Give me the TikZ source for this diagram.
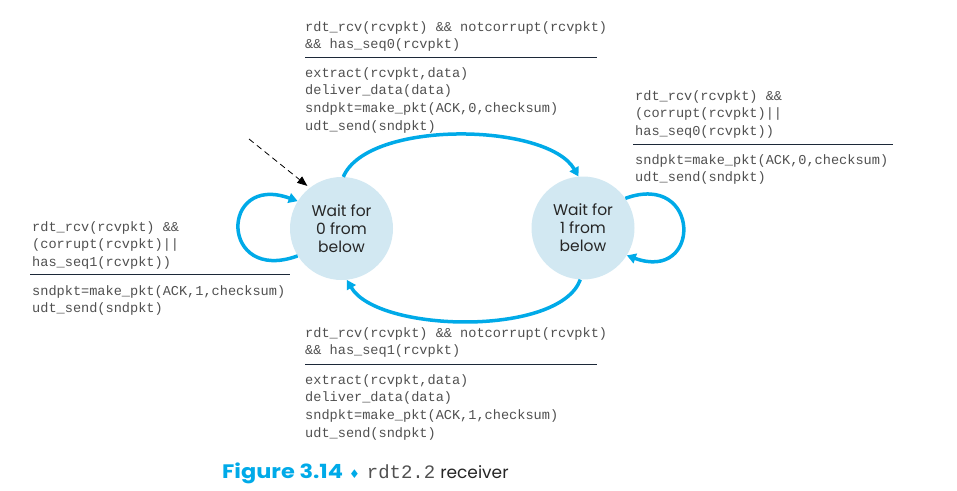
\documentclass[tikz,border=0pt]{standalone}
\usepackage{fontspec}
\setmainfont{Poppins}
\newfontfamily\codefont{Liberation Mono}
\newfontfamily\symfont{DejaVu Sans}
\newfontfamily\capfont{Poppins}[FakeStretch=1.15]
\usetikzlibrary{arrows.meta}
\definecolor{cyanarr}{HTML}{00AAE8}
\definecolor{statefill}{HTML}{D2E8F2}
\definecolor{codegray}{HTML}{505050}
\definecolor{rulenavy}{HTML}{1C2838}
\begin{document}
\begin{tikzpicture}[x=1pt,y=1pt,
  state/.style={circle,fill=statefill,minimum size=103pt,inner sep=0pt,align=center,
    font=\fontsize{15.5}{18}\selectfont,text=black!85},
  code/.style={anchor=north west,inner sep=0pt,align=left,
    font=\codefont\fontsize{13.6}{17.8}\selectfont,text=codegray},
  rulel/.style={draw=rulenavy,line width=1pt},
  trans/.style={draw=cyanarr,line width=3.5pt,-{Triangle[length=9pt,width=10pt]}},
  init/.style={draw=black,line width=0.8pt,dash pattern=on 6pt off 4pt,-{Triangle[length=10pt,width=8pt]}}
]
\useasboundingbox (0,0) rectangle (957,-490);

\node[state] (L) at (341.5,-228.5) {Wait for\\0 from\\below};
\node[state] (R) at (583,-228) {Wait for\\1 from\\below};

% top block
\node[code] (tg) at (305,-21) {rdt\_rcv(rcvpkt) \&\& notcorrupt(rcvpkt)\\\&\& has\_seq0(rcvpkt)};
\coordinate (tr1) at (305,-57);
\coordinate (tr2) at (597,-57);
\draw[rulel] (tr1) -- (tr2);
\node[code] (ta) at (305,-67) {extract(rcvpkt,data)\\deliver\_data(data)\\sndpkt=make\_pkt(ACK,0,checksum)\\udt\_send(sndpkt)};

% right block
\node[code] (rg) at (635,-90) {rdt\_rcv(rcvpkt) \&\&\\(corrupt(rcvpkt)||\\has\_seq0(rcvpkt))};
\coordinate (rr1) at (633,-144);
\coordinate (rr2) at (893,-144);
\draw[rulel] (rr1) -- (rr2);
\node[code] (ra) at (635,-154) {sndpkt=make\_pkt(ACK,0,checksum)\\udt\_send(sndpkt)};

% left block
\node[code] (lg) at (32,-221) {rdt\_rcv(rcvpkt) \&\&\\(corrupt(rcvpkt)||\\has\_seq1(rcvpkt))};
\coordinate (lr1) at (30,-274);
\coordinate (lr2) at (290,-274);
\draw[rulel] (lr1) -- (lr2);
\node[code] (la) at (32,-285) {sndpkt=make\_pkt(ACK,1,checksum)\\udt\_send(sndpkt)};

% bottom block
\node[code] (bg) at (305,-327) {rdt\_rcv(rcvpkt) \&\& notcorrupt(rcvpkt)\\\&\& has\_seq1(rcvpkt)};
\coordinate (br1) at (305,-364);
\coordinate (br2) at (597,-364);
\draw[rulel] (br1) -- (br2);
\node[code] (ba) at (305,-374) {extract(rcvpkt,data)\\deliver\_data(data)\\sndpkt=make\_pkt(ACK,1,checksum)\\udt\_send(sndpkt)};

% transitions
\draw[trans] (L.88) to[out=67,in=120,looseness=0.68] (R.95);
\draw[trans] (R.-93) to[out=-110,in=-60,looseness=0.67] (L.-84);
\draw[trans] (L.212) to[out=200,in=160,looseness=3.9] (L.148);
\draw[trans] (R.35) to[out=20,in=-20,looseness=3.6] (R.-32);

\coordinate (istart) at (249,-139);
\draw[init,shorten >=3pt] (istart) -- (L.128);

% caption
\node[anchor=base west,inner sep=0pt] (cap) at (222,-478)
  {{\capfont\fontsize{19.5}{22}\selectfont\bfseries\color{cyanarr}Figure 3.14}\hspace{6pt}{\symfont\fontsize{12}{13}\selectfont\color{cyanarr}♦}\hspace{7pt}{\codefont\fontsize{19}{20}\selectfont\color{codegray}rdt2.2}\hspace{5pt}{\fontsize{17}{20}\selectfont\color{black!85}receiver}};
\end{tikzpicture}
\end{document}
